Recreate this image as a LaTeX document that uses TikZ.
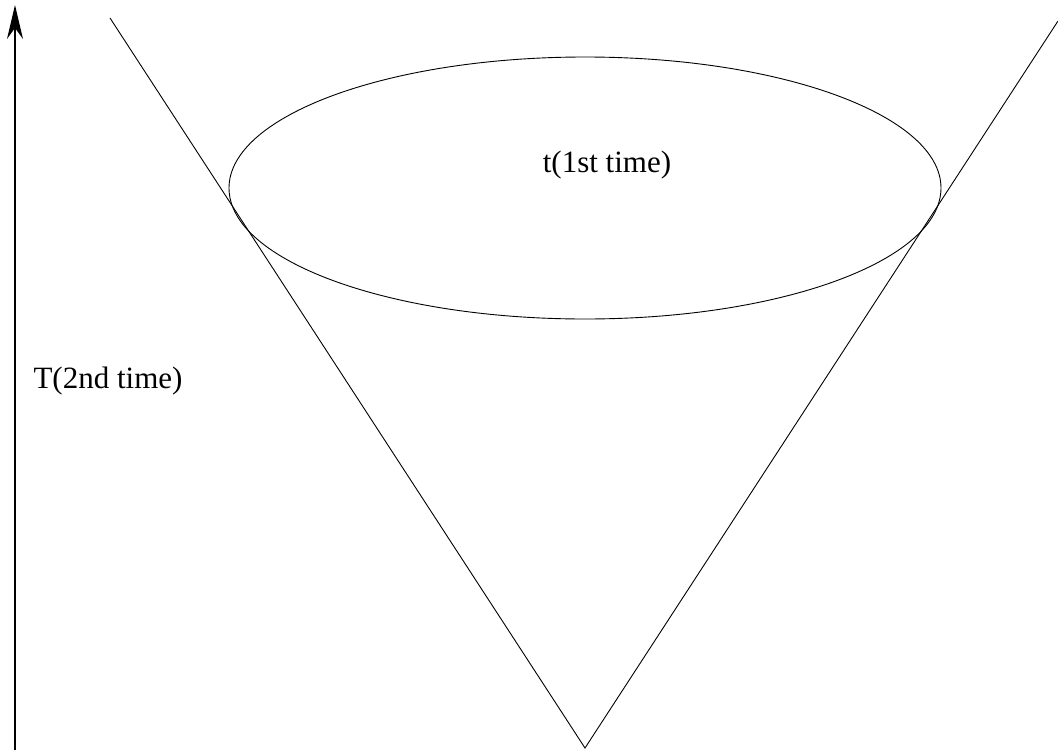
\documentclass[tikz,border=0pt]{standalone}
\usepackage{fontspec}
\setmainfont{Liberation Serif}
\usetikzlibrary{arrows.meta}

\begin{document}
\begin{tikzpicture}[x=1pt, y=-1pt,
    label text/.style={font=\fontsize{31}{37}\selectfont, inner sep=0pt}]
  \useasboundingbox (0, 0) rectangle (1058, 750);

  \coordinate (apex) at (585, 748);
  \coordinate (lefttop) at (110, 18);
  \coordinate (righttop) at (1058, 21);

  \draw[line width=0.9pt] (lefttop) -- (apex) -- (righttop);
  \draw[line width=0.9pt] (585, 188) ellipse [x radius=356, y radius=131];
  \node[label text] (first) at (607, 165) {t(1st time)};

  \coordinate (axisstart) at (15, 750);
  \coordinate (axisend) at (15, 5);
  \draw[line width=1.6pt, -{Stealth[length=34pt, width=16pt]}] (axisstart) -- (axisend);
  \node[label text] (second) at (108, 381) {T(2nd time)};
\end{tikzpicture}
\end{document}
